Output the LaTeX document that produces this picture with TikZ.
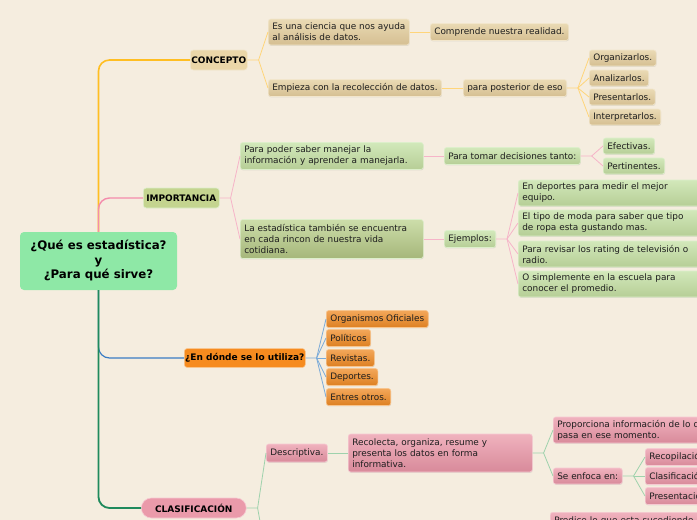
\documentclass[tikz,border=0pt]{standalone}
\usepackage{fontspec}
\setmainfont{DejaVu Sans}
\usetikzlibrary{shadows}
\definecolor{bg}{HTML}{F5EDDF}
\definecolor{txt}{HTML}{1E1E1E}
\definecolor{rootc}{HTML}{8EE8A6}
\definecolor{tanT}{HTML}{EADAB4}
\definecolor{tanB}{HTML}{D5BF92}
\definecolor{tanL}{HTML}{F2E6CC}
\definecolor{concC}{HTML}{EAD6A8}
\definecolor{grT}{HTML}{D2E8BA}
\definecolor{grB}{HTML}{B6CE96}
\definecolor{grL}{HTML}{DDEFCB}
\definecolor{olT}{HTML}{CCDDAA}
\definecolor{olB}{HTML}{A6B67A}
\definecolor{impC}{HTML}{C4D48F}
\definecolor{orT}{HTML}{F3A75A}
\definecolor{orB}{HTML}{DD8022}
\definecolor{orL}{HTML}{F8C58E}
\definecolor{dondeC}{HTML}{F68B1F}
\definecolor{pkT}{HTML}{F0B2BE}
\definecolor{pkB}{HTML}{D88A9A}
\definecolor{pkL}{HTML}{F6CAD2}
\definecolor{clasC}{HTML}{EA9AAA}
\definecolor{yl}{HTML}{FFD57A}
\definecolor{ylT}{HTML}{FFBE22}
\definecolor{pl}{HTML}{F6B4C8}
\definecolor{plT}{HTML}{F48CAC}
\definecolor{bl}{HTML}{7AAAD8}
\definecolor{blT}{HTML}{3A7CC4}
\definecolor{gl}{HTML}{9ED2AC}
\definecolor{glT}{HTML}{1F8A5C}
\tikzset{
  base/.style={anchor=west, rounded corners=2.5pt, inner xsep=4pt, inner ysep=1pt,
    align=left, text=txt, font=\fontsize{8.9}{11}\selectfont, line width=0.6pt,
    drop shadow={shadow xshift=0.4pt, shadow yshift=-0.9pt, opacity=0.18}},
  tanbox/.style={base, top color=tanT, bottom color=tanB, draw=tanL},
  grbox/.style={base, top color=grT, bottom color=grB, draw=grL},
  olbox/.style={base, top color=olT, bottom color=olB, draw=grL},
  orbox/.style={base, top color=orT, bottom color=orB, draw=orL},
  pkbox/.style={base, top color=pkT, bottom color=pkB, draw=pkL},
  title/.style={anchor=west, rounded corners=3pt, inner sep=0pt, align=center, text=black,
    font=\bfseries\fontsize{9}{10}\selectfont, line width=0.6pt},
  ylink/.style={draw=yl, line width=0.8pt},
  plink/.style={draw=pl, line width=0.8pt},
  blink/.style={draw=bl, line width=0.8pt},
  glink/.style={draw=gl, line width=0.8pt},
}
\begin{document}
\begin{tikzpicture}[x=1pt,y=-1pt]
\clip (0,0) rectangle (697,520);
\fill[bg] (0,0) rectangle (697,520);

% root
\node[fill=rootc, rounded corners=4pt, minimum width=157pt, minimum height=58pt, inner sep=0pt,
  align=center, font=\bfseries\fontsize{11.8}{14.5}\selectfont, text=black]
  (root) at (98.5,261) {¿Qué es estadística?\\y\\¿Para qué sirve?};

% level 1
\node[title, fill=concC, draw=tanL, minimum width=57pt, minimum height=20pt] (concepto) at (190,60) {CONCEPTO};
\node[title, fill=impC, draw=grL, minimum width=76pt, minimum height=20pt] (imp) at (143,198) {IMPORTANCIA};
\node[title, fill=dondeC, draw=orL, minimum width=121pt, minimum height=19pt] (donde) at (184,358) {¿En dónde se lo utiliza?};
\node[title, fill=clasC, draw=pkL, rounded corners=10pt, minimum width=105pt, minimum height=20pt] (clas) at (141,508) {CLASIFICACIÓN};

% trunks
\draw[line width=1.6pt, draw=ylT, rounded corners=11pt] (root.north) -- (root.north |- concepto.west) -- (concepto.west);
\draw[line width=1.4pt, draw=plT, rounded corners=11pt] (root.north) -- (root.north |- imp.west) -- (imp.west);
\draw[line width=1.2pt, draw=blT, rounded corners=11pt] (root.south) -- (root.south |- donde.west) -- (donde.west);
\draw[line width=1.8pt, draw=glT, rounded corners=11pt] (root.south) -- (root.south |- clas.west) -- (clas.west);

% CONCEPTO branch
\node[tanbox, text width=133pt, minimum height=26pt] (c1) at (268,32) {\mbox{Es una ciencia que nos ayuda}\\\mbox{al análisis de datos.}};
\node[tanbox, minimum height=17pt] (c1a) at (430,32) {Comprende nuestra realidad.};
\node[tanbox, minimum height=17pt] (c2) at (268,88) {Empieza con la recolección de datos.};
\node[tanbox, minimum height=17pt] (c2a) at (463,88) {para posterior de eso};
\node[tanbox, minimum height=16pt] (o1) at (589,58) {Organizarlos.};
\node[tanbox, minimum height=16pt] (o2) at (589,78) {Analizarlos.};
\node[tanbox, minimum height=16pt] (o3) at (589,97) {Presentarlos.};
\node[tanbox, minimum height=16pt] (o4) at (589,117) {Interpretarlos.};
\draw[ylink] (concepto.east) -- ++(11,0) coordinate (fc) -- (c1.west);
\draw[ylink] (fc) -- (c2.west);
\draw[ylink] (c1.east) -- (c1a.west);
\draw[ylink] (c2.east) -- (c2a.west);
\draw[ylink] (c2a.east) -- ++(11,0) coordinate (fo) -- (o1.west);
\draw[ylink] (fo) -- (o2.west);
\draw[ylink] (fo) -- (o3.west);
\draw[ylink] (fo) -- (o4.west);

% IMPORTANCIA branch
\node[grbox, text width=175pt, minimum height=27pt] (i1) at (240,156) {\mbox{Para poder saber manejar la}\\\mbox{información y aprender a manejarla.}};
\node[grbox, minimum height=17pt] (i1a) at (444,156) {Para tomar decisiones tanto:};
\node[grbox, minimum height=16pt] (e1) at (603,146) {Efectivas.};
\node[grbox, minimum height=16pt] (e2) at (603,166) {Pertinentes.};
\node[olbox, text width=175pt, minimum height=39pt] (i2) at (240,239) {\mbox{La estadística también se encuentra}\\\mbox{en cada rincon de nuestra vida}\\\mbox{cotidiana.}};
\node[grbox, minimum height=17pt] (i2a) at (444,239) {Ejemplos:};
\node[grbox, text width=182pt, minimum height=26pt] (x1) at (518,193) {\mbox{En deportes para medir el mejor}\\\mbox{equipo.}};
\node[grbox, text width=182pt, minimum height=26pt] (x2) at (518,223) {\mbox{El tipo de moda para saber que tipo}\\\mbox{de ropa esta gustando mas.}};
\node[grbox, text width=182pt, minimum height=26pt] (x3) at (518,254) {\mbox{Para revisar los rating de televisión o}\\\mbox{radio.}};
\node[grbox, text width=182pt, minimum height=26pt] (x4) at (518,284) {\mbox{O simplemente en la escuela para}\\\mbox{conocer el promedio.}};
\draw[plink] (imp.east) -- ++(11,0) coordinate (fi) -- (i1.west);
\draw[plink] (fi) -- (i2.west);
\draw[plink] (i1.east) -- (i1a.west);
\draw[plink] (i1a.east) -- ++(11,0) coordinate (fe) -- (e1.west);
\draw[plink] (fe) -- (e2.west);
\draw[plink] (i2.east) -- (i2a.west);
\draw[plink] (i2a.east) -- ++(11,0) coordinate (fx) -- (x1.west);
\draw[plink] (fx) -- (x2.west);
\draw[plink] (fx) -- (x3.west);
\draw[plink] (fx) -- (x4.west);

% EN DONDE branch
\node[orbox, minimum height=17pt] (d1) at (326,319) {Organismos Oficiales};
\node[orbox, minimum height=17pt] (d2) at (326,338) {Políticos};
\node[orbox, minimum height=17pt] (d3) at (326,358) {Revistas.};
\node[orbox, minimum height=17pt] (d4) at (326,377) {Deportes.};
\node[orbox, minimum height=17pt] (d5) at (326,397) {Entres otros.};
\draw[blink] (donde.east) -- ++(11,0) coordinate (fd) -- (d1.west);
\draw[blink] (fd) -- (d2.west);
\draw[blink] (fd) -- (d3.west);
\draw[blink] (fd) -- (d4.west);
\draw[blink] (fd) -- (d5.west);

% CLASIFICACION branch
\node[pkbox, minimum height=18pt] (k1) at (266,453) {Descriptiva.};
\node[pkbox, text width=176pt, minimum height=38pt] (k1a) at (348,453) {\mbox{Recolecta, organiza, resume y}\\\mbox{presenta los datos en forma}\\\mbox{informativa.}};
\node[pkbox, text width=180pt, minimum height=26pt] (k2) at (553,430) {\mbox{Proporciona información de lo que}\\\mbox{pasa en ese momento.}};
\node[pkbox, minimum height=16pt] (k3) at (553,476) {Se enfoca en:};
\node[pkbox, minimum height=17pt] (r1) at (645,457) {Recopilación.};
\node[pkbox, minimum height=17pt] (r2) at (645,476) {Clasificación.};
\node[pkbox, minimum height=17pt] (r3) at (645,496) {Presentación.};
\node[pkbox, anchor=north west, text width=180pt, minimum height=26pt] (k4) at (550,512) {\mbox{Predice lo que esta sucediendo}\\\mbox{en el futuro.}};
\coordinate (koff) at (267,560);
\draw[glink] (clas.east) -- ++(11,0) coordinate (fk) -- (k1.west);
\draw[glink] (fk) -- (koff);
\draw[glink] (k1.east) -- (k1a.west);
\draw[glink] (k1a.east) -- ++(11,0) coordinate (fk2) -- (k2.west);
\draw[glink] (fk2) -- (k3.west);
\draw[glink] (k3.east) -- ++(11,0) coordinate (fr) -- (r1.west);
\draw[glink] (fr) -- (r2.west);
\draw[glink] (fr) -- (r3.west);
\end{tikzpicture}
\end{document}
